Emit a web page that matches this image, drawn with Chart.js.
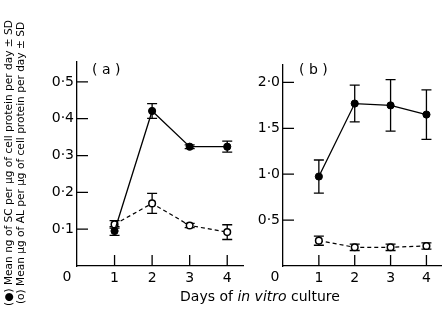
<!DOCTYPE html>
<html><head><meta charset="utf-8">
<script src="https://cdn.jsdelivr.net/npm/chart.js@4/dist/chart.umd.min.js"></script>
<style>
html,body{margin:0;padding:0;background:#fff;}
body{width:447px;height:322px;position:relative;overflow:hidden;font-family:"DejaVu Sans",sans-serif;color:#000;}
#ca{position:absolute;left:0;top:0;}
#cb{position:absolute;left:250px;top:0;}
.yt{position:absolute;white-space:nowrap;font-size:10.6px;transform:translate(-50%,-50%) rotate(-90deg);}
#xt{position:absolute;left:260px;top:296px;transform:translate(-50%,-50%);white-space:nowrap;font-size:14px;}
</style></head><body>
<canvas id="ca" width="250" height="322"></canvas>
<canvas id="cb" width="197" height="322"></canvas>
<div class="yt" style="left:8px;top:163px;">(●) Mean ng of SC per μg of cell protein per day ± SD</div>
<div class="yt" style="left:20px;top:163px;">(o) Mean μg of AL per μg of cell protein per day ± SD</div>
<div id="xt">Days of <i>in vitro</i> culture</div>
<script>
const days = [1, 2, 3, 4];
const xTickLabels = ['1', '2', '3', '4'];
// Panel (a)
const scA = [0.095, 0.421, 0.324, 0.324];
const sdScA = [0.012, 0.02, 0.005, 0.015];
const alA = [0.113, 0.17, 0.11, 0.092];
const sdAlA = [0.01, 0.027, 0.006, 0.02];
const yTicksA = [0.1, 0.2, 0.3, 0.4, 0.5];
const yTickLabelsA = ['0·1', '0·2', '0·3', '0·4', '0·5'];
// Panel (b)
const scB = [0.975, 1.77, 1.75, 1.65];
const sdScB = [0.18, 0.2, 0.28, 0.27];
const alB = [0.276, 0.204, 0.204, 0.218];
const sdAlB = [0.05, 0.035, 0.035, 0.035];
const yTicksB = [0.5, 1.0, 1.5, 2.0];
const yTickLabelsB = ['0·5', '1·0', '1·5', '2·0'];

const FONT = {family: '"DejaVu Sans", sans-serif', size: 14};

const errPlugin = {
  id: 'errbars',
  beforeDatasetsDraw(chart) {
    const ctx = chart.ctx, x = chart.scales.x, y = chart.scales.y;
    ctx.save();
    ctx.strokeStyle = '#000'; ctx.lineWidth = 1.3;
    chart.data.datasets.forEach(ds => {
      ds.data.forEach((p, i) => {
        const e = ds.errors[i];
        const px = x.getPixelForValue(p.x);
        const top = y.getPixelForValue(p.y + e), bot = y.getPixelForValue(p.y - e);
        ctx.beginPath();
        ctx.moveTo(px, top); ctx.lineTo(px, bot);
        ctx.moveTo(px - 5, top); ctx.lineTo(px + 5, top);
        ctx.moveTo(px - 5, bot); ctx.lineTo(px + 5, bot);
        ctx.stroke();
      });
    });
    ctx.restore();
  }
};

const tickPlugin = {
  id: 'innerTicks',
  afterDraw(chart) {
    const ctx = chart.ctx, x = chart.scales.x, y = chart.scales.y, a = chart.chartArea;
    ctx.save();
    ctx.strokeStyle = '#000'; ctx.lineWidth = 1.3;
    ctx.beginPath();
    x.ticks.forEach(t => { const px = x.getPixelForValue(t.value); ctx.moveTo(px, a.bottom); ctx.lineTo(px, a.bottom - 11); });
    y.ticks.forEach(t => { const py = y.getPixelForValue(t.value); ctx.moveTo(a.left, py); ctx.lineTo(a.left + 11, py); });
    ctx.stroke();
    ctx.fillStyle = '#000';
    ctx.font = '14px "DejaVu Sans", sans-serif';
    ctx.textAlign = 'center'; ctx.textBaseline = 'middle';
    const o = chart.options.plugins.innerTicks;
    ctx.fillText('0', a.left + o.zeroDx, a.bottom + 11);
    ctx.textAlign = 'left';
    ctx.fillText(o.panel, a.left + o.panelDx, 70);
    ctx.restore();
  }
};

function makeChart(id, sc, sdSc, al, sdAl, yMax, yTicks, yLabels, pad, yWidth, zeroDx, panel, panelDx) {
  return new Chart(document.getElementById(id), {
    type: 'line',
    data: {
      datasets: [
        {data: days.map((d, i) => ({x: d, y: sc[i]})), errors: sdSc, borderColor: '#000', borderWidth: 1.3,
         pointRadius: 3.6, pointBackgroundColor: '#000', pointBorderColor: '#000', pointBorderWidth: 1, clip: false},
        {data: days.map((d, i) => ({x: d, y: al[i]})), errors: sdAl, borderColor: '#000', borderWidth: 1.2, borderDash: [4, 3],
         pointRadius: 3.3, pointBackgroundColor: '#fff', pointBorderColor: '#000', pointBorderWidth: 1.5, clip: false}
      ]
    },
    options: {
      responsive: false, animation: false, devicePixelRatio: 1,
      layout: {padding: pad},
      plugins: {legend: {display: false}, tooltip: {enabled: false},
        innerTicks: {zeroDx: zeroDx, panel: panel, panelDx: panelDx}},
      scales: {
        x: {type: 'linear', min: 0, max: 4.42,
          grid: {display: false, drawTicks: false}, border: {color: '#000', width: 1.3},
          ticks: {font: FONT, color: '#000', padding: 4, callback: (v, i) => xTickLabels[i]},
          afterBuildTicks: s => { s.ticks = days.map(v => ({value: v})); },
          afterFit: s => { s.height = 56; }},
        y: {type: 'linear', min: 0, max: yMax,
          grid: {display: false, drawTicks: false}, border: {color: '#000', width: 1.3},
          ticks: {font: FONT, color: '#000', padding: 3, callback: (v, i) => yLabels[i]},
          afterBuildTicks: s => { s.ticks = yTicks.map(v => ({value: v})); },
          afterFit: s => { s.width = yWidth; }}
      }
    },
    plugins: [errPlugin, tickPlugin]
  });
}

makeChart('ca', scA, sdScA, alA, sdAlA, 0.554, yTicksA, yTickLabelsA, {top: 62, right: 7, left: 0, bottom: 0}, 77, -10, '( a )', 15);
makeChart('cb', scB, sdScB, alB, sdAlB, 2.19, yTicksB, yTickLabelsB, {top: 65, right: 0, left: 0, bottom: 0}, 33, -8, '( b )', 16);
</script>
</body></html>
